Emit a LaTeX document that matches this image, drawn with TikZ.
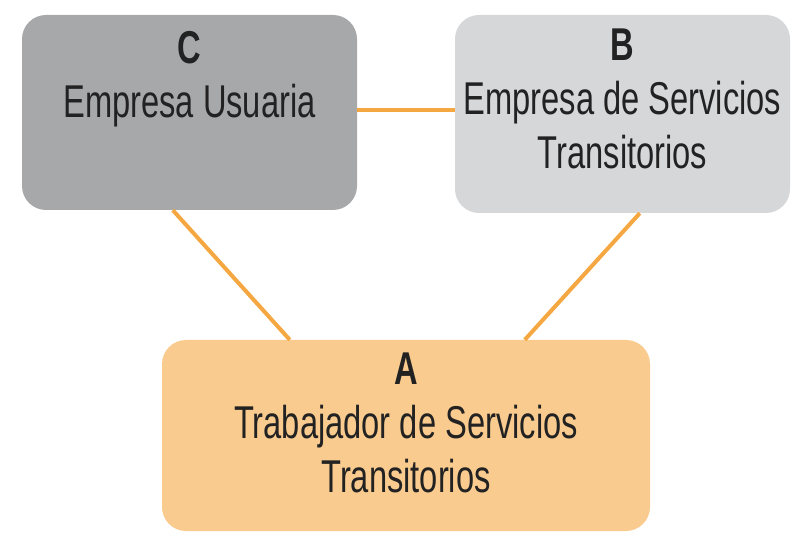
\documentclass[tikz,border=0pt]{standalone}
\usepackage{fontspec}
\usepackage{tikz}
\usetikzlibrary{positioning}
\newfontfamily\condfont[FakeStretch=0.71]{Liberation Sans}
\definecolor{usuaria}{HTML}{A7A8AA}
\definecolor{servicios}{HTML}{D6D7D9}
\definecolor{trabajador}{HTML}{F9CB8F}
\definecolor{enlace}{HTML}{F5A742}
\definecolor{letra}{HTML}{222222}

\begin{document}
\begin{tikzpicture}[x=1pt,y=1pt,
	caja/.style={rounded corners=24pt, inner sep=0pt},
	enlaceln/.style={draw=enlace, line width=4pt},
	rotulo/.style={align=center, inner sep=0pt, text=letra,
		font=\condfont\fontsize{46}{54}\selectfont}]
	\useasboundingbox (0,0) rectangle (794,535);

	% cajas
	\node[caja, fill=usuaria, minimum width=335pt, minimum height=195pt] (C) at (189.5, 422.5) {};
	\node[caja, fill=servicios, minimum width=335pt, minimum height=198pt] (B) at (622.5, 421) {};
	\node[caja, fill=trabajador, minimum width=488pt, minimum height=191pt] (A) at (406, 99.5) {};

	% lineas
	\draw[enlaceln] ([yshift=2pt]C.east) -- ([yshift=2pt]C.east -| B.west);
	\draw[enlaceln] ([xshift=151pt]C.south west) -- ([xshift=128pt]A.north west);
	\draw[enlaceln] ([xshift=185pt]B.south west) -- ([xshift=363pt]A.north west);

	% textos
	\node[rotulo, below=16pt of C.north] (Ctxt) {\textbf{C}\\Empresa Usuaria};
	\node[rotulo, below=14pt of B.north] (Btxt) {\textbf{B}\\Empresa de Servicios\\Transitorios};
	\node[rotulo, below=13pt of A.north] (Atxt) {\textbf{A}\\Trabajador de Servicios\\Transitorios};
\end{tikzpicture}
\end{document}
